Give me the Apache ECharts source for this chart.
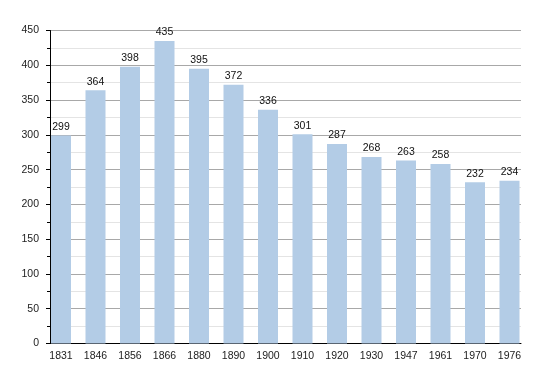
<!DOCTYPE html>
<html><head><meta charset="utf-8">
<script src="https://cdn.jsdelivr.net/npm/echarts@6/dist/echarts.min.js"></script>
<style>html,body{margin:0;padding:0;background:#fff}#c{width:550px;height:373px}</style>
</head><body><div id="c"></div>
<script>
const years = ['1831','1846','1856','1866','1880','1890','1900','1910','1920','1930','1947','1961','1970','1976'];
const population = [299,364,398,435,395,372,336,301,287,268,263,258,232,234];
const yMin = 0, yMax = 450, yStep = 50;

const chart = echarts.init(document.getElementById('c'));
const font = 'Liberation Sans, Arial, sans-serif';
chart.setOption({
  animation: false,
  grid: [
    {left: 50, right: 29, top: 30.5, bottom: 29.5},
    {left: 61, right: 40.5, top: 30.5, bottom: 29.5}
  ],
  xAxis: [
    {gridIndex: 0, type: 'category', data: years, boundaryGap: false,
     axisLine: {lineStyle: {color: '#000', width: 1}}, axisTick: {show: false}, axisLabel: {show: false}},
    {gridIndex: 1, type: 'category', data: years, boundaryGap: false,
     axisLine: {show: false}, axisTick: {show: false},
     axisLabel: {color: '#222', fontFamily: font, fontSize: 10.5, margin: 7, interval: 0}}
  ],
  yAxis: [
    {gridIndex: 0, type: 'value', min: yMin, max: yMax, interval: yStep,
     axisLine: {show: true, lineStyle: {color: '#000'}},
     axisTick: {show: true, length: 4, lineStyle: {color: '#000'}},
     minorTick: {show: true, splitNumber: 2, length: 3, lineStyle: {color: '#000'}},
     splitLine: {lineStyle: {color: '#a8a8a8', width: 1}},
     minorSplitLine: {show: true, lineStyle: {color: '#e4e4e4', width: 1}},
     axisLabel: {color: '#222', fontFamily: font, fontSize: 10.5, margin: 11}},
    {gridIndex: 1, type: 'value', min: yMin, max: yMax, interval: yStep, show: false}
  ],
  series: [{
    type: 'bar', xAxisIndex: 1, yAxisIndex: 1, data: population,
    barWidth: 20,
    itemStyle: {color: '#b3cce6'},
    label: {show: true, position: 'top', distance: 3, color: '#111', fontFamily: font, fontSize: 10.5}
  }]
});
</script></body></html>
